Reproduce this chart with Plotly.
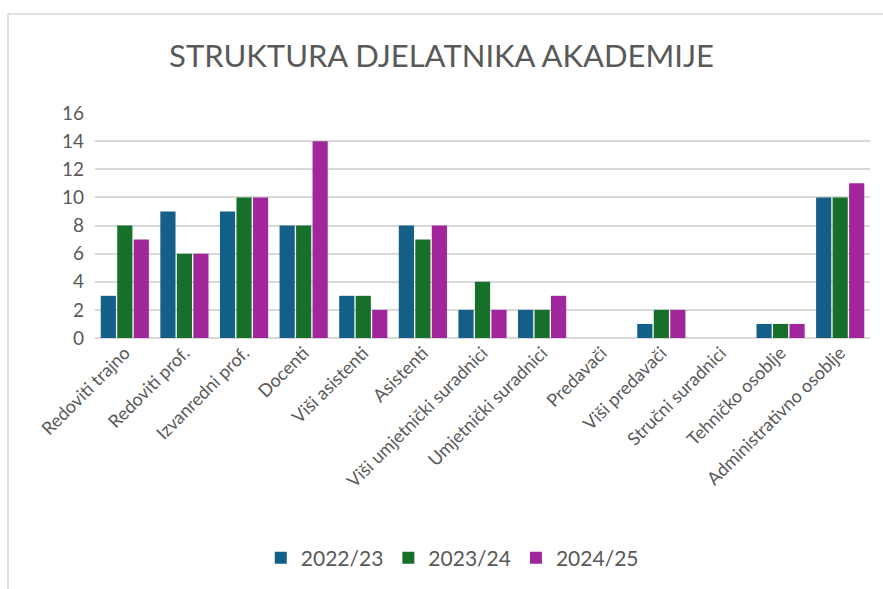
import plotly.graph_objects as go

categories = ["Redoviti trajno", "Redoviti prof.", "Izvanredni prof.", "Docenti",
              "Viši asistenti", "Asistenti", "Viši umjetnički suradnici",
              "Umjetnički suradnici", "Predavači", "Viši predavači",
              "Stručni suradnici", "Tehničko osoblje", "Administrativno osoblje"]
v_2022 = [3, 9, 9, 8, 3, 8, 2, 2, 0, 1, 0, 1, 10]
v_2023 = [8, 6, 10, 8, 3, 7, 4, 2, 0, 2, 0, 1, 10]
v_2024 = [7, 6, 10, 14, 2, 8, 2, 3, 0, 2, 0, 1, 11]
series_names = ["2022/23", "2023/24", "2024/25"]
colors = ["#135f87", "#17702a", "#a1269b"]

fig = go.Figure()
for name, vals, col in zip(series_names, [v_2022, v_2023, v_2024], colors):
    fig.add_trace(go.Bar(x=categories, y=vals, name=name,
                         marker=dict(color=col, line=dict(width=0))))

fig.update_layout(
    width=883, height=589,
    paper_bgcolor="white", plot_bgcolor="white",
    barmode="group", bargap=0.17, bargroupgap=0.08,
    margin=dict(l=95, r=13, t=113, b=250),
    title=dict(text="STRUKTURA DJELATNIKA AKADEMIJE", x=0.5, xanchor="center",
               y=1 - 56/589, yanchor="middle",
               font=dict(family="Lato", size=31, color="#595959")),
    font=dict(family="Lato", color="#595959"),
    xaxis=dict(tickangle=-45, tickfont=dict(size=18, color="#595959"),
               showgrid=False, showline=False, ticks=""),
    yaxis=dict(range=[0, 16], dtick=2, tickfont=dict(size=19, color="#595959"),
               gridcolor="#d9d9d9", gridwidth=1.5, zeroline=True,
               zerolinecolor="#d9d9d9", zerolinewidth=1.5, ticklabelstandoff=10),
    legend=dict(orientation="h", x=0.461, xanchor="center", y=-(558-339)/226, yanchor="middle",
                font=dict(size=21, color="#595959"), itemwidth=30),
    shapes=[dict(type="rect", xref="paper", yref="paper",
                 x0=-(95-8)/775, x1=(883-95+20)/775, y0=-(589-339+20)/226, y1=1+(113-13.5)/226,
                 line=dict(color="#d9d9d9", width=1.5), fillcolor="rgba(0,0,0,0)", layer="below")],
)

fig.write_html("out.html", config={"displayModeBar": False},
               post_script="document.body.style.margin='0';")
